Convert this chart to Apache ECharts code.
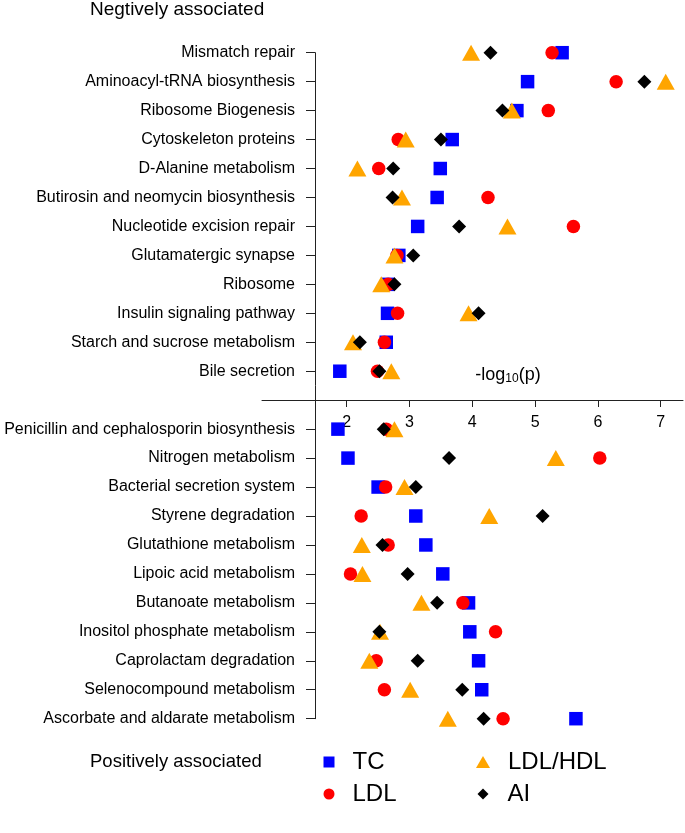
<!DOCTYPE html>
<html>
<head>
<meta charset="utf-8">
<script src="https://cdn.jsdelivr.net/npm/echarts@6/dist/echarts.min.js"></script>
<style>
html,body{margin:0;padding:0;background:#fff;}
#chart{width:685px;height:833px;}
</style>
</head>
<body>
<div id="chart"></div>
<script>
const negCategories = ['Mismatch repair', 'Aminoacyl-tRNA biosynthesis', 'Ribosome Biogenesis', 'Cytoskeleton proteins', 'D-Alanine metabolism', 'Butirosin and neomycin biosynthesis', 'Nucleotide excision repair', 'Glutamatergic synapse', 'Ribosome', 'Insulin signaling pathway', 'Starch and sucrose metabolism', 'Bile secretion'];
const posCategories = ['Penicillin and cephalosporin biosynthesis', 'Nitrogen metabolism', 'Bacterial secretion system', 'Styrene degradation', 'Glutathione metabolism', 'Lipoic acid metabolism', 'Butanoate metabolism', 'Inositol phosphate metabolism', 'Caprolactam degradation', 'Selenocompound metabolism', 'Ascorbate and aldarate metabolism'];

const negTC     = [5.43, 4.88, 4.71, 3.68, 3.49, 3.44, 3.13, 2.83, 2.66, 2.65, 2.63, 1.89];
const negLDL    = [5.27, 6.29, 5.21, 2.82, 2.51, 4.25, 5.61, 2.80, 2.66, 2.81, 2.60, 2.49];
const negLDLHDL = [3.98, 7.08, 4.63, 2.94, 2.17, 2.88, 4.56, 2.76, 2.55, 3.94, 2.10, 2.71];
const negAI     = [4.29, 6.74, 4.48, 3.50, 2.74, 2.73, 3.79, 3.06, 2.76, 4.10, 2.21, 2.52];

const posTC     = [1.86, 2.02, 2.50, 3.10, 3.26, 3.53, 3.94, 3.96, 4.10, 4.15, 5.65];
const posLDL    = [2.63, 6.03, 2.62, 2.23, 2.66, 2.06, 3.85, 4.37, 2.47, 2.60, 4.49];
const posLDLHDL = [2.76, 5.33, 2.92, 4.27, 2.24, 2.25, 3.19, 2.53, 2.36, 3.01, 3.61];
const posAI     = [2.59, 3.63, 3.10, 5.12, 2.57, 2.97, 3.44, 2.52, 3.13, 3.84, 4.18];

const xTicks = [2, 3, 4, 5, 6, 7];

const gapLabel = '';
const categories = negCategories.concat([gapLabel], posCategories);

function pairs(negVals, posVals) {
  const out = [];
  negVals.forEach((v, i) => out.push([v, negCategories[i]]));
  posVals.forEach((v, i) => out.push([v, posCategories[i]]));
  return out;
}

const FONT = "'Liberation Sans', Arial, sans-serif";
const chart = echarts.init(document.getElementById('chart'), null, {renderer: 'canvas'});

const option = {
  backgroundColor: '#fff',
  animation: false,
  textStyle: {fontFamily: FONT},
  title: [
    {text: 'Negtively associated', left: 90, top: 0, padding: 0,
     textStyle: {fontSize: 19, fontWeight: 'normal', color: '#000', fontFamily: FONT}},
    {text: 'Positively associated', left: 90, top: 752, padding: 0,
     textStyle: {fontSize: 18.5, fontWeight: 'normal', color: '#000', fontFamily: FONT}}
  ],
  legend: [
    {data: ['TC'], icon: 'rect', itemWidth: 11, itemHeight: 11, left: 323.5, top: 750, padding: 0,
     selectedMode: false, itemStyle: {opacity: 1}, textStyle: {fontSize: 24, lineHeight: 24, color: '#000', padding: [0,0,0,13], fontFamily: FONT}},
    {data: ['LDL'], icon: 'circle', itemWidth: 11, itemHeight: 11, left: 323.5, top: 782, padding: 0,
     selectedMode: false, itemStyle: {opacity: 1}, textStyle: {fontSize: 24, lineHeight: 24, color: '#000', padding: [0,0,0,13], fontFamily: FONT}},
    {data: ['LDL/HDL'], icon: 'triangle', itemWidth: 14, itemHeight: 12, left: 476, top: 750, padding: 0,
     selectedMode: false, itemStyle: {opacity: 1}, textStyle: {fontSize: 24, lineHeight: 24, color: '#000', padding: [0,0,0,13], fontFamily: FONT}},
    {data: ['AI'], icon: 'diamond', itemWidth: 11, itemHeight: 11, left: 477.5, top: 782, padding: 0,
     selectedMode: false, itemStyle: {opacity: 1}, textStyle: {fontSize: 24, lineHeight: 24, color: '#000', padding: [0,0,0,14], fontFamily: FONT}}
  ],
  grid: {left: 262, right: 2, top: 52.7, bottom: 114.3, containLabel: false},
  xAxis: {
    type: 'value',
    min: 0.651,
    max: 7.355,
    position: 'bottom',
    offset: -318.7,
    splitLine: {show: false},
    axisLine: {show: true, onZero: false, lineStyle: {color: '#222', width: 1}},
    axisTick: {show: true, customValues: xTicks, length: 7, inside: false, lineStyle: {color: '#222'}},
    axisLabel: {customValues: xTicks, fontSize: 16, color: '#000', margin: 15, fontFamily: FONT},
    name: '{a|-log}{s|10}{a|(p)}',
    nameLocation: 'middle',
    nameGap: -35,
    nameTextStyle: {
      padding: [0, 0, 0, 71],
      rich: {
        a: {fontSize: 18, color: '#000', fontFamily: FONT, lineHeight: 20},
        s: {fontSize: 12, color: '#000', fontFamily: FONT, verticalAlign: 'bottom', lineHeight: 20, padding: [4, 0, 0, 0]}
      }
    }
  },
  yAxis: {
    type: 'category',
    data: categories,
    inverse: true,
    boundaryGap: false,
    offset: -53,
    splitLine: {show: false},
    axisLine: {show: true, lineStyle: {color: '#222', width: 1}},
    axisTick: {show: true, length: 9, inside: false, alignWithLabel: true, lineStyle: {color: '#222'}},
    axisLabel: {fontSize: 16, color: '#000', margin: 20, interval: 0, fontFamily: FONT}
  },
  series: [
    {name: 'TC', type: 'scatter', symbol: 'rect', symbolSize: 13.5, z: 2,
     itemStyle: {color: '#0000FF', opacity: 1}, data: pairs(negTC, posTC)},
    {name: 'LDL', type: 'scatter', symbol: 'circle', symbolSize: 13.5, z: 3,
     itemStyle: {color: '#FF0000', opacity: 1}, data: pairs(negLDL, posLDL)},
    {name: 'LDL/HDL', type: 'scatter', symbol: 'triangle', symbolSize: [18, 16], z: 4,
     itemStyle: {color: '#FFA500', opacity: 1}, data: pairs(negLDLHDL, posLDLHDL)},
    {name: 'AI', type: 'scatter', symbol: 'diamond', symbolSize: 14, z: 5,
     itemStyle: {color: '#000000', opacity: 1}, data: pairs(negAI, posAI)}
  ]
};
chart.setOption(option);
</script>
</body>
</html>
